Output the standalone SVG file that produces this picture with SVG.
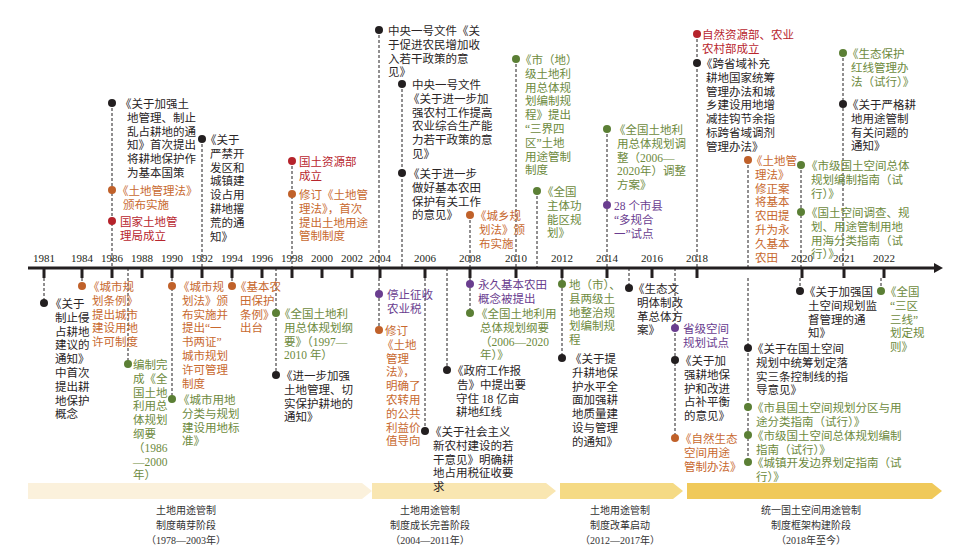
<svg xmlns="http://www.w3.org/2000/svg" width="972" height="553" viewBox="0 0 972 553">
<style>
text{font-family:"Liberation Serif","Noto Sans CJK SC",serif;font-size:11.5px}
.k{fill:#2a2526}.o{fill:#c8692f}.r{fill:#b8262e}.g{fill:#6d8a3d}.p{fill:#6a3d8f}
.dk{fill:#231f20}.do{fill:#c0612a}.dr{fill:#b5232b}.dg{fill:#5b7f35}.dp{fill:#6a3d8f}
.c line{stroke:#231f20;stroke-width:1;stroke-dasharray:3 2}
.yr{font-size:11px;fill:#231f20;text-anchor:middle}
.ph{font-size:10px;fill:#333;text-anchor:middle}
</style>
<rect width="972" height="553" fill="#fff"/>
<g id="phases">
<polygon points="28,483 362,483 372,491 362,499 28,499" fill="#fbf1dc"/>
<polygon points="372,483 546,483 556,491 546,499 372,499" fill="#f9e6b1"/>
<polygon points="560,483 673,483 683,491 673,499 560,499" fill="#f5da84"/>
<polygon points="687,483 932,483 942,491 932,499 687,499" fill="#f0c95a"/>
<text class="ph" x="186" y="514">土地用途管制<tspan x="186" dy="15">制度萌芽阶段</tspan><tspan x="186" dy="15">（1978—2003年）</tspan></text>
<text class="ph" x="430" y="514">土地用途管制<tspan x="430" dy="15">制度成长完善阶段</tspan><tspan x="430" dy="15">（2004—2011年）</tspan></text>
<text class="ph" x="620" y="514">土地用途管制<tspan x="620" dy="15">制度改革启动</tspan><tspan x="620" dy="15">（2012—2017年）</tspan></text>
<text class="ph" x="811" y="514">统一国土空间用途管制<tspan x="811" dy="15">制度框架构建阶段</tspan><tspan x="811" dy="15">（2018年至今）</tspan></text>
</g>
<g id="axis">
<line x1="28" y1="268" x2="936" y2="268" stroke="#231f20" stroke-width="3"/>
<polygon points="934,263 943,268 934,273" fill="#231f20"/>
<g stroke="#231f20" stroke-width="3">
<line x1="44" y1="268" x2="44" y2="278"/><line x1="82" y1="268" x2="82" y2="278"/><line x1="112" y1="268" x2="112" y2="278"/><line x1="142" y1="268" x2="142" y2="278"/><line x1="172" y1="268" x2="172" y2="278"/><line x1="202" y1="268" x2="202" y2="278"/><line x1="232" y1="268" x2="232" y2="278"/><line x1="262" y1="268" x2="262" y2="278"/><line x1="292" y1="268" x2="292" y2="278"/><line x1="322" y1="268" x2="322" y2="278"/><line x1="352" y1="268" x2="352" y2="278"/><line x1="380" y1="268" x2="380" y2="278"/><line x1="425" y1="268" x2="425" y2="278"/><line x1="470" y1="268" x2="470" y2="278"/><line x1="516" y1="268" x2="516" y2="278"/><line x1="562" y1="268" x2="562" y2="278"/><line x1="607" y1="268" x2="607" y2="278"/><line x1="652" y1="268" x2="652" y2="278"/><line x1="697" y1="268" x2="697" y2="278"/><line x1="802" y1="268" x2="802" y2="278"/><line x1="844" y1="268" x2="844" y2="278"/><line x1="884" y1="268" x2="884" y2="278"/>
</g>
<text class="yr" x="44" y="262">1981</text><text class="yr" x="82" y="262">1984</text><text class="yr" x="112" y="262">1986</text><text class="yr" x="142" y="262">1988</text><text class="yr" x="172" y="262">1990</text><text class="yr" x="202" y="262">1992</text><text class="yr" x="232" y="262">1994</text><text class="yr" x="262" y="262">1996</text><text class="yr" x="292" y="262">1998</text><text class="yr" x="322" y="262">2000</text><text class="yr" x="352" y="262">2002</text><text class="yr" x="380" y="262">2004</text><text class="yr" x="425" y="262">2006</text><text class="yr" x="470" y="262">2008</text><text class="yr" x="516" y="262">2010</text><text class="yr" x="562" y="262">2012</text><text class="yr" x="607" y="262">2014</text><text class="yr" x="652" y="262">2016</text><text class="yr" x="697" y="262">2018</text><text class="yr" x="802" y="262">2020</text><text class="yr" x="844" y="262">2021</text><text class="yr" x="884" y="262">2022</text>
</g>
<g id="connectors" class="c">
<line x1="44" y1="278" x2="44" y2="303"/><line x1="82" y1="278" x2="82" y2="286"/><line x1="112" y1="103" x2="112" y2="268"/><line x1="128" y1="268" x2="128" y2="364"/><line x1="172" y1="278" x2="172" y2="399"/><line x1="202" y1="139" x2="202" y2="268"/><line x1="232" y1="278" x2="232" y2="286"/><line x1="276" y1="268" x2="276" y2="375"/><line x1="292" y1="161" x2="292" y2="268"/><line x1="379" y1="30" x2="379" y2="268"/><line x1="379" y1="278" x2="379" y2="330"/><line x1="402" y1="84" x2="402" y2="268"/><line x1="425" y1="278" x2="425" y2="431"/><line x1="447" y1="268" x2="447" y2="370"/><line x1="470" y1="215" x2="470" y2="268"/><line x1="470" y1="278" x2="470" y2="313"/><line x1="516" y1="59" x2="516" y2="268"/><line x1="537" y1="191" x2="537" y2="268"/><line x1="562" y1="278" x2="562" y2="358"/><line x1="607" y1="129" x2="607" y2="268"/><line x1="629" y1="268" x2="629" y2="288"/><line x1="675" y1="268" x2="675" y2="438"/><line x1="697" y1="34" x2="697" y2="268"/><line x1="748" y1="160" x2="748" y2="268"/><line x1="748" y1="278" x2="748" y2="462"/><line x1="801" y1="165" x2="801" y2="268"/><line x1="800" y1="278" x2="800" y2="291"/><line x1="843" y1="53" x2="843" y2="268"/><line x1="881" y1="278" x2="881" y2="291"/>
</g>
<g id="n1986a"><circle class="dk" cx="112" cy="103" r="4"/><text class="k" x="120" y="108">《关于加强土<tspan x="127" dy="13.8">地管理、制止</tspan><tspan x="127" dy="13.8">乱占耕地的通</tspan><tspan x="127" dy="13.8">知》首次提出</tspan><tspan x="127" dy="13.8">将耕地保护作</tspan><tspan x="127" dy="13.8">为基本国策</tspan></text></g>
<g id="n1986b"><circle class="do" cx="112" cy="190" r="4"/><text class="o" x="117" y="195">《土地管理法》<tspan x="123" dy="13.8">颁布实施</tspan></text></g>
<g id="n1986c"><circle class="dr" cx="112" cy="221" r="4"/><text class="r" x="120" y="226">国家土地管<tspan x="120" dy="13.8">理局成立</tspan></text></g>
<g id="n1992"><circle class="dk" cx="202" cy="139" r="4"/><text class="k" x="205" y="144">《关于<tspan x="210" dy="13.8">严禁开</tspan><tspan x="210" dy="13.8">发区和</tspan><tspan x="210" dy="13.8">城镇建</tspan><tspan x="210" dy="13.8">设占用</tspan><tspan x="210" dy="13.8">耕地撂</tspan><tspan x="210" dy="13.8">荒的通</tspan><tspan x="210" dy="13.8">知》</tspan></text></g>
<g id="n1981"><circle class="dk" cx="44" cy="303" r="4"/><text class="k" x="50" y="308">《关于<tspan x="55" dy="13.8">制止侵</tspan><tspan x="55" dy="13.8">占耕地</tspan><tspan x="55" dy="13.8">建议的</tspan><tspan x="55" dy="13.8">通知》</tspan><tspan x="55" dy="13.8">中首次</tspan><tspan x="55" dy="13.8">提出耕</tspan><tspan x="55" dy="13.8">地保护</tspan><tspan x="55" dy="13.8">概念</tspan></text></g>
<g id="n1984"><circle class="do" cx="82" cy="286" r="4"/><text class="o" x="88" y="291">《城市规<tspan x="92" dy="13.8">划条例》</tspan><tspan x="92" dy="13.8">提出城市</tspan><tspan x="92" dy="13.8">建设用地</tspan><tspan x="92" dy="13.8">许可制度</tspan></text></g>
<g id="n1987"><circle class="dg" cx="128" cy="364" r="4"/><text class="g" x="133" y="369">编制完<tspan x="133" dy="13.8">成《全</tspan><tspan x="133" dy="13.8">国土地</tspan><tspan x="133" dy="13.8">利用总</tspan><tspan x="133" dy="13.8">体规划</tspan><tspan x="133" dy="13.8">纲要</tspan><tspan x="133" dy="13.8">（1986</tspan><tspan x="133" dy="13.8">—2000</tspan><tspan x="133" dy="13.8">年）</tspan></text></g>
<g id="n1990a"><circle class="do" cx="172" cy="286" r="4"/><text class="o" x="178" y="291">《城市规<tspan x="182" dy="13.8">划法》颁</tspan><tspan x="182" dy="13.8">布实施并</tspan><tspan x="182" dy="13.8">提出“一</tspan><tspan x="182" dy="13.8">书两证”</tspan><tspan x="182" dy="13.8">城市规划</tspan><tspan x="182" dy="13.8">许可管理</tspan><tspan x="182" dy="13.8">制度</tspan></text></g>
<g id="n1990b"><circle class="dg" cx="172" cy="399" r="4"/><text class="g" x="178" y="404">《城市用地<tspan x="182" dy="13.8">分类与规划</tspan><tspan x="182" dy="13.8">建设用地标</tspan><tspan x="182" dy="13.8">准》</tspan></text></g>
<g id="n1994"><circle class="do" cx="232" cy="286" r="4"/><text class="o" x="235" y="291">《基本农<tspan x="240" dy="13.8">田保护</tspan><tspan x="240" dy="13.8">条例》</tspan><tspan x="240" dy="13.8">出台</tspan></text></g>
<g id="n1997a"><circle class="dg" cx="276" cy="313" r="4"/><text class="g" x="279" y="318">《全国土地利<tspan x="284" dy="13.8">用总体规划纲</tspan><tspan x="284" dy="13.8">要》（1997—</tspan><tspan x="284" dy="13.8">2010 年）</tspan></text></g>
<g id="n1997b"><circle class="dk" cx="276" cy="375" r="4"/><text class="k" x="281" y="380">《进一步加强<tspan x="284" dy="13.8">土地管理、切</tspan><tspan x="284" dy="13.8">实保护耕地的</tspan><tspan x="284" dy="13.8">通知》</tspan></text></g>
<g id="n1998a"><circle class="dr" cx="292" cy="161" r="4"/><text class="r" x="299" y="166">国土资源部<tspan x="299" dy="13.8">成立</tspan></text></g>
<g id="n1998b"><circle class="do" cx="292" cy="194" r="4"/><text class="o" x="299" y="199">修订《土地管<tspan x="299" dy="13.8">理法》，首次</tspan><tspan x="299" dy="13.8">提出土地用途</tspan><tspan x="299" dy="13.8">管制制度</tspan></text></g>
<g id="n2004a"><circle class="dk" cx="379" cy="30" r="4"/><text class="k" x="388" y="35">中央一号文件《关<tspan x="388" dy="13.8">于促进农民增加收</tspan><tspan x="388" dy="13.8">入若干政策的意</tspan><tspan x="388" dy="13.8">见》</tspan></text></g>
<g id="n2005a"><circle class="dk" cx="402" cy="84" r="4"/><text class="k" x="412" y="89">中央一号文件<tspan x="408" dy="13.8">《关于进一步加</tspan><tspan x="412" dy="13.8">强农村工作提高</tspan><tspan x="412" dy="13.8">农业综合生产能</tspan><tspan x="412" dy="13.8">力若干政策的意</tspan><tspan x="412" dy="13.8">见》</tspan></text></g>
<g id="n2005b"><circle class="dk" cx="402" cy="173" r="4"/><text class="k" x="408" y="178">《关于进一步<tspan x="412" dy="13.8">做好基本农田</tspan><tspan x="412" dy="13.8">保护有关工作</tspan><tspan x="412" dy="13.8">的意见》</tspan></text></g>
<g id="n2004b"><circle class="dp" cx="379" cy="294" r="4"/><text class="p" x="387" y="299">停止征收<tspan x="387" dy="13.8">农业税</tspan></text></g>
<g id="n2004c"><circle class="do" cx="379" cy="330" r="4"/><text class="o" x="385" y="335">修订<tspan x="382" dy="13.8">《土地</tspan><tspan x="386" dy="13.8">管理</tspan><tspan x="386" dy="13.8">法》，</tspan><tspan x="386" dy="13.8">明确了</tspan><tspan x="386" dy="13.8">农转用</tspan><tspan x="386" dy="13.8">的公共</tspan><tspan x="386" dy="13.8">利益价</tspan><tspan x="386" dy="13.8">值导向</tspan></text></g>
<g id="n2006"><circle class="dk" cx="425" cy="431" r="4"/><text class="k" x="430" y="436">《关于社会主义<tspan x="433" dy="13.8">新农村建设的若</tspan><tspan x="433" dy="13.8">干意见》明确耕</tspan><tspan x="433" dy="13.8">地占用税征收要</tspan><tspan x="433" dy="13.8">求</tspan></text></g>
<g id="n2007"><circle class="dk" cx="447" cy="370" r="4"/><text class="k" x="452" y="375">《政府工作报<tspan x="457" dy="13.8">告》中提出要</tspan><tspan x="456" dy="13.8">守住 18 亿亩</tspan><tspan x="456" dy="13.8">耕地红线</tspan></text></g>
<g id="n2008a"><circle class="do" cx="470" cy="215" r="4"/><text class="o" x="475" y="220">《城乡规<tspan x="479" dy="13.8">划法》颁</tspan><tspan x="479" dy="13.8">布实施</tspan></text></g>
<g id="n2008b"><circle class="dp" cx="470" cy="284" r="4"/><text class="p" x="478" y="289">永久基本农田<tspan x="478" dy="13.8">概念被提出</tspan></text></g>
<g id="n2008c"><circle class="dg" cx="470" cy="313" r="4"/><text class="g" x="476" y="318">《全国土地利用<tspan x="480" dy="13.8">总体规划纲要</tspan><tspan x="480" dy="13.8">（2006—2020</tspan><tspan x="480" dy="13.8">年）》</tspan></text></g>
<g id="n2010"><circle class="dg" cx="516" cy="59" r="4"/><text class="g" x="520" y="64">《市（地）<tspan x="525" dy="13.8">级土地利</tspan><tspan x="525" dy="13.8">用总体规</tspan><tspan x="525" dy="13.8">划编制规</tspan><tspan x="525" dy="13.8">程》提出</tspan><tspan x="525" dy="13.8">“三界四</tspan><tspan x="525" dy="13.8">区”土地</tspan><tspan x="525" dy="13.8">用途管制</tspan><tspan x="525" dy="13.8">制度</tspan></text></g>
<g id="n2011"><circle class="dg" cx="537" cy="191" r="4"/><text class="g" x="542" y="196">《全国<tspan x="547" dy="13.8">主体功</tspan><tspan x="547" dy="13.8">能区规</tspan><tspan x="547" dy="13.8">划》</tspan></text></g>
<g id="n2012a"><circle class="dg" cx="562" cy="284" r="4"/><text class="g" x="569" y="289">地（市）、<tspan x="569" dy="13.8">县两级土</tspan><tspan x="569" dy="13.8">地整治规</tspan><tspan x="569" dy="13.8">划编制规</tspan><tspan x="569" dy="13.8">程</tspan></text></g>
<g id="n2012b"><circle class="dk" cx="562" cy="358" r="4"/><text class="k" x="570" y="363">《关于提<tspan x="572" dy="13.8">升耕地保</tspan><tspan x="572" dy="13.8">护水平全</tspan><tspan x="572" dy="13.8">面加强耕</tspan><tspan x="572" dy="13.8">地质量建</tspan><tspan x="572" dy="13.8">设与管理</tspan><tspan x="572" dy="13.8">的通知》</tspan></text></g>
<g id="n2014a"><circle class="dg" cx="607" cy="129" r="4"/><text class="g" x="614" y="134">《全国土地利<tspan x="617" dy="13.8">用总体规划调</tspan><tspan x="617" dy="13.8">整（2006—</tspan><tspan x="617" dy="13.8">2020年）调整</tspan><tspan x="617" dy="13.8">方案》</tspan></text></g>
<g id="n2014b"><circle class="dp" cx="607" cy="205" r="4"/><text class="p" x="614" y="210">28 个市县<tspan x="614" dy="13.8">“多规合</tspan><tspan x="614" dy="13.8">一”试点</tspan></text></g>
<g id="n2015"><circle class="dk" cx="629" cy="288" r="4"/><text class="k" x="633" y="293">《生态文<tspan x="637" dy="13.8">明体制改</tspan><tspan x="637" dy="13.8">革总体方</tspan><tspan x="637" dy="13.8">案》</tspan></text></g>
<g id="n2017a"><circle class="dp" cx="675" cy="328" r="4"/><text class="p" x="683" y="333">省级空间<tspan x="683" dy="13.8">规划试点</tspan></text></g>
<g id="n2017b"><circle class="dk" cx="675" cy="360" r="4"/><text class="k" x="680" y="365">《关于加<tspan x="684" dy="13.8">强耕地保</tspan><tspan x="684" dy="13.8">护和改进</tspan><tspan x="684" dy="13.8">占补平衡</tspan><tspan x="684" dy="13.8">的意见》</tspan></text></g>
<g id="n2017c"><circle class="do" cx="675" cy="438" r="4"/><text class="o" x="680" y="443">《自然生态<tspan x="684" dy="13.8">空间用途</tspan><tspan x="684" dy="13.8">管制办法》</tspan></text></g>
<g id="n2018a"><circle class="dr" cx="697" cy="34" r="4"/><text class="r" x="702" y="39">自然资源部、农业<tspan x="702" dy="13.8">农村部成立</tspan></text></g>
<g id="n2018b"><circle class="dk" cx="697" cy="63" r="4"/><text class="k" x="701" y="68">《跨省域补充<tspan x="706" dy="13.8">耕地国家统筹</tspan><tspan x="706" dy="13.8">管理办法和城</tspan><tspan x="706" dy="13.8">乡建设用地增</tspan><tspan x="706" dy="13.8">减挂钩节余指</tspan><tspan x="706" dy="13.8">标跨省域调剂</tspan><tspan x="706" dy="13.8">管理办法》</tspan></text></g>
<g id="n2019a"><circle class="do" cx="748" cy="160" r="4"/><text class="o" x="751" y="165">《土地管<tspan x="755" dy="13.8">理法》</tspan><tspan x="755" dy="13.8">修正案</tspan><tspan x="755" dy="13.8">将基本</tspan><tspan x="755" dy="13.8">农田提</tspan><tspan x="755" dy="13.8">升为永</tspan><tspan x="755" dy="13.8">久基本</tspan><tspan x="755" dy="13.8">农田</tspan></text></g>
<g id="n2019b"><circle class="dk" cx="748" cy="348" r="4"/><text class="k" x="752" y="353">《关于在国土空间<tspan x="756" dy="13.8">规划中统筹划定落</tspan><tspan x="756" dy="13.8">实三条控制线的指</tspan><tspan x="756" dy="13.8">导意见》</tspan></text></g>
<g id="n2019c"><circle class="dg" cx="748" cy="407" r="4"/><text class="g" x="752" y="412">《市县国土空间规划分区与用<tspan x="756" dy="13.8">途分类指南（试行）》</tspan></text></g>
<g id="n2019d"><circle class="dg" cx="748" cy="435" r="4"/><text class="g" x="752" y="440">《市级国土空间总体规划编制<tspan x="756" dy="13.8">指南（试行）》</tspan></text></g>
<g id="n2019e"><circle class="dg" cx="748" cy="462" r="4"/><text class="g" x="752" y="467">《城镇开发边界划定指南（试<tspan x="756" dy="13.8">行）》</tspan></text></g>
<g id="n2020a"><circle class="dg" cx="801" cy="165" r="4"/><text class="g" x="806" y="170">《市级国土空间总体<tspan x="811" dy="13.8">规划编制指南（试</tspan><tspan x="811" dy="13.8">行）》</tspan></text></g>
<g id="n2020b"><circle class="dg" cx="801" cy="212" r="4"/><text class="g" x="806" y="217">《国土空间调查、规<tspan x="811" dy="13.8">划、用途管制用地</tspan><tspan x="811" dy="13.8">用海分类指南（试</tspan><tspan x="811" dy="13.8">行）》</tspan></text></g>
<g id="n2020c"><circle class="dk" cx="800" cy="291" r="4"/><text class="k" x="804" y="296">《关于加强国<tspan x="808" dy="13.8">土空间规划监</tspan><tspan x="808" dy="13.8">督管理的通</tspan><tspan x="808" dy="13.8">知》</tspan></text></g>
<g id="n2021a"><circle class="dg" cx="843" cy="53" r="4"/><text class="g" x="847" y="58">《生态保护<tspan x="851" dy="13.8">红线管理办</tspan><tspan x="851" dy="13.8">法（试行）》</tspan></text></g>
<g id="n2021b"><circle class="dk" cx="843" cy="104" r="4"/><text class="k" x="847" y="109">《关于严格耕<tspan x="851" dy="13.8">地用途管制</tspan><tspan x="851" dy="13.8">有关问题的</tspan><tspan x="851" dy="13.8">通知》</tspan></text></g>
<g id="n2021c"><circle class="dg" cx="881" cy="291" r="4"/><text class="g" x="885" y="296">《全国<tspan x="890" dy="13.8">“三区</tspan><tspan x="890" dy="13.8">三线”</tspan><tspan x="890" dy="13.8">划定规</tspan><tspan x="890" dy="13.8">则》</tspan></text></g>
</svg>
